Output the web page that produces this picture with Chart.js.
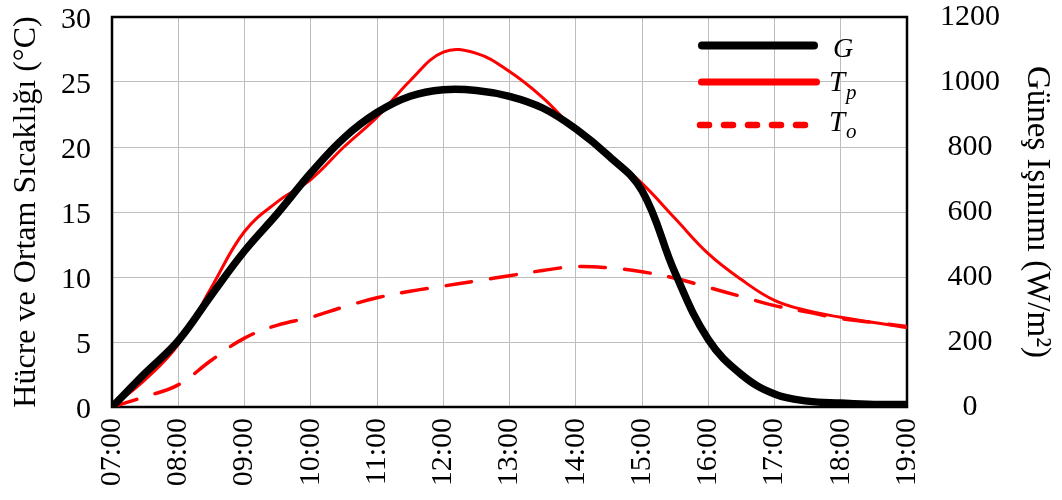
<!DOCTYPE html>
<html>
<head>
<meta charset="utf-8">
<script src="https://cdn.jsdelivr.net/npm/chart.js@4"></script>
<style>
  html, body { margin: 0; padding: 0; background: #ffffff; }
  #wrap { width: 1062px; height: 500px; position: relative; }
</style>
</head>
<body>
<div id="wrap"><canvas id="c" width="1062" height="500"></canvas></div>
<script>
// Time of day (hours)
const hours = [7, 7.5, 8, 8.5, 9, 9.5, 10, 10.5, 11, 11.5, 12, 12.5, 13, 13.5, 14, 14.5, 15, 15.5, 16, 16.5, 17, 17.5, 18, 18.5, 19];
// Solar irradiance G (W/m2)
const seriesG = [0, 104, 204, 344, 480, 596, 720, 828, 906, 956, 976, 974, 956, 920, 856, 772, 666, 412, 208, 100, 40, 18, 12, 8, 8];
// Cell temperature Tp (°C)
const seriesTp = [0, 2.1, 4.8, 9.2, 13.5, 15.8, 17.5, 20.0, 22.3, 25.1, 27.3, 27.2, 25.8, 23.8, 21.3, 19.4, 17.2, 14.5, 11.8, 9.8, 8.2, 7.4, 6.9, 6.5, 6.1];
// Ambient temperature To (°C)
const seriesTo = [0, 0.8, 1.7, 3.6, 5.3, 6.3, 6.9, 7.7, 8.4, 8.9, 9.3, 9.7, 10.1, 10.5, 10.8, 10.7, 10.4, 9.9, 9.2, 8.5, 7.8, 7.3, 6.8, 6.5, 6.2];

const leftTitle = 'Hücre ve Ortam Sıcaklığı (°C)';
const rightTitle = 'Güneş Işınımı (W/m²)';

const FONT = '"Liberation Serif", "Times New Roman", serif';

function pts(ys) { return hours.map((h, i) => ({ x: h, y: ys[i] })); }
function hourLabel(v) { return String(v).padStart(2, '0') + ':00'; }

const framePlugin = {
  id: 'frame',
  beforeDatasetsDraw(chart) {
    const a = chart.chartArea, ctx = chart.ctx;
    ctx.save();
    ctx.strokeStyle = '#000';
    ctx.lineWidth = 2.5;
    ctx.strokeRect(a.left, a.top, a.right - a.left, a.bottom - a.top);
    ctx.restore();
  }
};

const legendPlugin = {
  id: 'customLegend',
  afterDraw(chart) {
    const ctx = chart.ctx;
    ctx.save();
    ctx.lineCap = 'round';
    // G
    ctx.strokeStyle = '#000'; ctx.lineWidth = 8;
    ctx.beginPath(); ctx.moveTo(702, 45.5); ctx.lineTo(814, 45.5); ctx.stroke();
    // Tp
    ctx.strokeStyle = '#ff0000'; ctx.lineWidth = 7;
    ctx.beginPath(); ctx.moveTo(701.5, 82); ctx.lineTo(816.5, 82); ctx.stroke();
    // To
    ctx.setLineDash([9, 15]); ctx.lineWidth = 6.5;
    ctx.beginPath(); ctx.moveTo(700, 125); ctx.lineTo(806, 125); ctx.stroke();
    ctx.setLineDash([]);
    ctx.fillStyle = '#000';
    ctx.textBaseline = 'alphabetic';
    ctx.textAlign = 'left';
    ctx.font = 'italic 28px ' + FONT;
    ctx.fillText('G', 833, 57);
    ctx.font = 'italic 29px ' + FONT;
    ctx.fillText('T', 829, 91);
    ctx.fillText('T', 829, 131);
    ctx.font = 'italic 21px ' + FONT;
    ctx.fillText('p', 846, 99);
    ctx.fillText('o', 846, 138);
    ctx.restore();
  }
};

function noPad(s) { s.paddingTop = 0; s.paddingBottom = 0; }

new Chart(document.getElementById('c'), {
  type: 'line',
  data: {
    datasets: [
      { label: 'G', data: pts(seriesG), yAxisID: 'y1', borderColor: '#000000', borderWidth: 7.5,
        borderCapStyle: 'round', pointRadius: 0, tension: 0.4, fill: false },
      { label: 'Tp', data: pts(seriesTp), yAxisID: 'y', borderColor: '#ff0000', borderWidth: 3,
        pointRadius: 0, tension: 0.4, fill: false },
      { label: 'To', data: pts(seriesTo), yAxisID: 'y', borderColor: '#ff0000', borderWidth: 3.5,
        borderDash: [26, 19], borderCapStyle: 'round', pointRadius: 0, tension: 0.4, fill: false }
    ]
  },
  options: {
    responsive: false,
    animation: false,
    events: [],
    layout: { padding: { top: 17, left: 0, right: 0, bottom: 0 } },
    plugins: { legend: { display: false }, tooltip: { enabled: false } },
    scales: {
      x: {
        type: 'linear', min: 7, max: 19,
        afterFit(s) { s.height = 93; },
        ticks: { stepSize: 1, autoSkip: false, maxRotation: 90, minRotation: 90, padding: 11,
          color: '#000', font: { family: FONT, size: 30 }, callback: hourLabel },
        grid: { color: '#bdbdbd', lineWidth: 1, drawTicks: false },
        border: { display: false }
      },
      y: {
        position: 'left', min: 0, max: 30,
        afterFit(s) { s.width = 112; noPad(s); },
        ticks: { stepSize: 5, padding: 21, labelOffset: 3, color: '#000', font: { family: FONT, size: 30 } },
        grid: { color: '#bdbdbd', lineWidth: 1, drawTicks: false },
        border: { display: false },
        title: { display: true, text: leftTitle, color: '#000', font: { family: FONT, size: 32 }, padding: { top: 7, bottom: 0 } }
      },
      y1: {
        position: 'right', min: 0, max: 1200,
        afterFit(s) { s.width = 155; noPad(s); },
        ticks: { stepSize: 200, padding: 33, crossAlign: 'center', color: '#000', font: { family: FONT, size: 30 },
          callback: v => String(v) },
        grid: { display: false, drawTicks: false },
        border: { display: false },
        title: { display: true, text: rightTitle, color: '#000', font: { family: FONT, size: 33 }, padding: { top: 6, bottom: 0 } }
      }
    }
  },
  plugins: [framePlugin, legendPlugin]
});
</script>
</body>
</html>
